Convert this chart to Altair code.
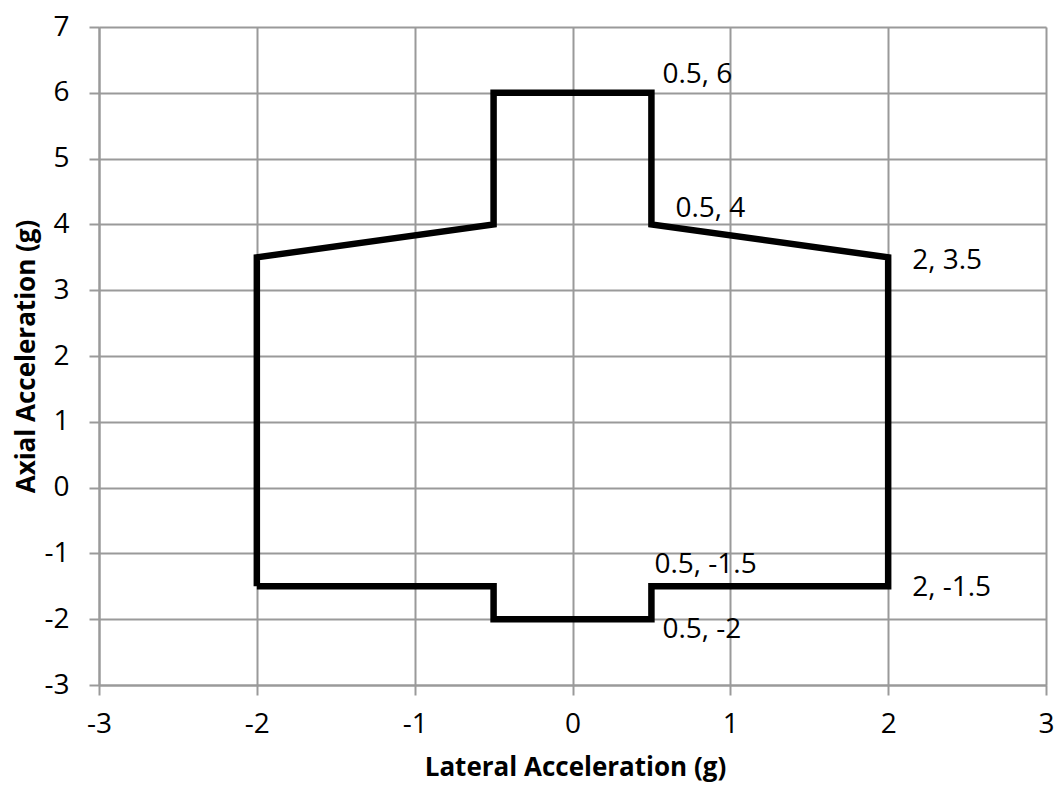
import altair as alt
import pandas as pd

# Polygon outline (lateral g, axial g), in drawing order
lat = [-2, -2, -0.5, -0.5, 0.5, 0.5, 2, 2, 0.5, 0.5, -0.5, -0.5, -2]
axial = [-1.5, 3.5, 4, 6, 6, 4, 3.5, -1.5, -1.5, -2, -2, -1.5, -1.5]

# Point labels
lab_x = [0.5, 0.5, 2, 0.5, 2, 0.5]
lab_y = [6, 4, 3.5, -1.5, -1.5, -2]
lab_text = ["0.5, 6", "0.5, 4", "2, 3.5", "0.5, -1.5", "2, -1.5", "0.5, -2"]
lab_dx = [11, 24, 24, 3, 24, 11]
lab_dy = [-10, -7, 12, -13, 10, 19]

ticks = [-3, -2, -1, 0, 1, 2, 3, 4, 5, 6, 7]

FONT = "Open Sans"
GRID = "#9a9a9a"

df = pd.DataFrame({"x": lat, "y": axial, "order": list(range(len(lat)))})

xscale = alt.Scale(domain=[-3, 3], nice=False, zero=False)
yscale = alt.Scale(domain=[-3, 7], nice=False, zero=False)

xaxis = alt.Axis(
    title="Lateral Acceleration (g)", values=ticks[:7], labelExpr="'' + datum.value",
    grid=True, gridColor=GRID, gridWidth=2, domainColor=GRID, domainWidth=2,
    tickColor=GRID, tickWidth=2, tickSize=10, labelFont=FONT, labelFontSize=28,
    labelColor="black", labelPadding=15, titleFont=FONT, titleFontSize=26,
    titleFontWeight="bold", titleColor="black", titleX=476, titleY=90,
    titleBaseline="alphabetic", titleAnchor="middle", labelFlush=False,
)
yaxis = alt.Axis(
    title="Axial Acceleration (g)", values=ticks, labelExpr="'' + datum.value",
    grid=True, gridColor=GRID, gridWidth=2, domainColor=GRID, domainWidth=2,
    tickColor=GRID, tickWidth=2, tickSize=10, labelFont=FONT, labelFontSize=28,
    labelColor="black", labelPadding=20, titleFont=FONT, titleFontSize=26,
    titleFontWeight="bold", titleColor="black", titleX=-65, titleY=329,
    titleAngle=-90, titleBaseline="alphabetic", titleAnchor="middle", labelFlush=False,
)

line = alt.Chart(df).mark_line(color="black", strokeWidth=6.5, strokeJoin="miter").encode(
    x=alt.X("x:Q", scale=xscale, axis=xaxis),
    y=alt.Y("y:Q", scale=yscale, axis=yaxis),
    order="order:Q",
)

layers = [line]
for i in range(len(lab_text)):
    ldf = pd.DataFrame({"x": [lab_x[i]], "y": [lab_y[i]], "t": [lab_text[i]]})
    layers.append(
        alt.Chart(ldf).mark_text(
            align="left", baseline="alphabetic", dx=lab_dx[i], dy=lab_dy[i],
            font=FONT, fontSize=28, color="black",
        ).encode(x=alt.X("x:Q", scale=xscale), y=alt.Y("y:Q", scale=yscale), text="t:N")
    )

chart = alt.layer(*layers).properties(
    width=947, height=658,
    autosize=alt.AutoSizeParams(type="none"),
    padding={"left": 91, "top": 19, "right": 10, "bottom": 98},
).configure_view(stroke=None).configure(background="white")

chart.save("out.html", embed_options={"renderer": "svg", "actions": False})
